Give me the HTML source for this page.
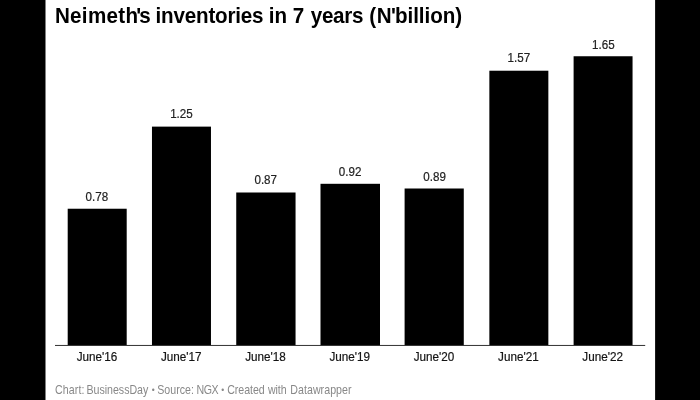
<!DOCTYPE html>
<html lang="en">
<head>
<meta charset="utf-8">
<title>Neimeth's inventories in 7 years (N'billion)</title>
<style>
html,body{margin:0;padding:0;background:#000;}
body{width:700px;height:400px;overflow:hidden;}
svg{display:block;position:absolute;left:0;top:0;}
text{font-family:"Liberation Sans",Arial,Helvetica,sans-serif;white-space:pre;}
.title{font-size:22.9px;font-weight:bold;fill:#000;}
.val{font-size:12.2px;fill:#222;text-anchor:middle;stroke:#222;stroke-width:0.2px;}
.lbl{font-size:12.2px;fill:#141414;text-anchor:middle;stroke:#141414;stroke-width:0.2px;}
.foot{font-size:11.9px;fill:#888;}
.dot{font-size:9.5px;}
.bar{fill:#000;}
</style>
</head>
<body>
<svg width="700" height="400" viewBox="0 0 700 400">
<rect x="0" y="0" width="700" height="400" fill="#000"/>
<rect x="45.5" y="0" width="609.6" height="400" fill="#fff"/>
<text class="title" transform="translate(54.9 23) scale(0.9 1)" x="0" y="0" dx="0 0.34 0.34 0.34 0.34 0.34 0.34 -1.93 -2.25 0 -0.87 -0.21 -0.21 -0.21 -0.21 -0.21 -0.21 -0.21 -0.21 -0.21 -0.21 0 -0.55 0.04 0 -0.13 0 0.91 -0.36 -0.36 -0.36 -0.36 0 0.22 0.76 -0.76 -1.09 -0.05 -0.05 -0.05 -0.05 -0.05 -0.05 -0.05">Neimeth's inventories in 7 years (N'billion)</text>
<rect class="bar" x="67.7" y="208.73" width="59" height="136.87"/>
<rect class="bar" x="151.97" y="126.62" width="59" height="218.98"/>
<rect class="bar" x="236.24" y="192.5" width="59.31" height="153.1"/>
<rect class="bar" x="320.5" y="183.8" width="59.5" height="161.8"/>
<rect class="bar" x="404.6" y="188.5" width="59.18" height="157.1"/>
<rect class="bar" x="489.35" y="70.72" width="59" height="274.88"/>
<rect class="bar" x="573.6" y="56.25" width="58.95" height="289.35"/>
<rect x="55" y="344.95" width="590.2" height="1" fill="#333"/>
<text class="val" x="96.8" y="201" textLength="22.6" lengthAdjust="spacingAndGlyphs">0.78</text>
<text class="val" x="181.47" y="118" textLength="22.6" lengthAdjust="spacingAndGlyphs">1.25</text>
<text class="val" x="265.74" y="184" textLength="22.6" lengthAdjust="spacingAndGlyphs">0.87</text>
<text class="val" x="350.1" y="176" textLength="22.6" lengthAdjust="spacingAndGlyphs">0.92</text>
<text class="val" x="434.6" y="181" textLength="22.6" lengthAdjust="spacingAndGlyphs">0.89</text>
<text class="val" x="518.8" y="62" textLength="22.6" lengthAdjust="spacingAndGlyphs">1.57</text>
<text class="val" x="603.4" y="49" textLength="22.6" lengthAdjust="spacingAndGlyphs">1.65</text>
<text class="lbl" x="97" y="361" textLength="40.6" lengthAdjust="spacingAndGlyphs">June'16</text>
<text class="lbl" x="181.27" y="361" textLength="40.6" lengthAdjust="spacingAndGlyphs">June'17</text>
<text class="lbl" x="265.54" y="361" textLength="40.6" lengthAdjust="spacingAndGlyphs">June'18</text>
<text class="lbl" x="349.81" y="361" textLength="40.6" lengthAdjust="spacingAndGlyphs">June'19</text>
<text class="lbl" x="434.08" y="361" textLength="40.6" lengthAdjust="spacingAndGlyphs">June'20</text>
<text class="lbl" x="518.35" y="361" textLength="40.6" lengthAdjust="spacingAndGlyphs">June'21</text>
<text class="lbl" x="602.62" y="361" textLength="40.6" lengthAdjust="spacingAndGlyphs">June'22</text>
<text class="foot" transform="translate(55.03 394) scale(0.893 1)" x="0" y="0" dx="0 0.1 0.1 0.1 0.1 0.1 0 -0.92 -0.03 -0.03 -0.03 -0.03 -0.03 -0.03 -0.03 -0.03 -0.03 -0.03 0 0.63 0 -0.48 0.02 0.02 0.02 0.02 0.02 0.02 0 -0.63 -0.44 -0.44 0 -0.47 0 0.06 -0.04 -0.04 -0.04 -0.04 -0.04 -0.04 0 0.43 -0.13 -0.13 -0.13 0 0.84 0.05 0.05 0.05 0.05 0.05 0.05 0.05 0.05 0.05 0.05" dy="0 0 0 0 0 0 0 0 0 0 0 0 0 0 0 0 0 0 0 -1 1 0 0 0 0 0 0 0 0 0 0 0 0 -1 1 0 0 0 0 0 0 0 0 0 0 0 0 0 0 0 0 0 0 0 0 0 0 0 0">Chart: BusinessDay <tspan class="dot">•</tspan> Source: NGX <tspan class="dot">•</tspan> Created with Datawrapper</text>
</svg>
</body>
</html>
